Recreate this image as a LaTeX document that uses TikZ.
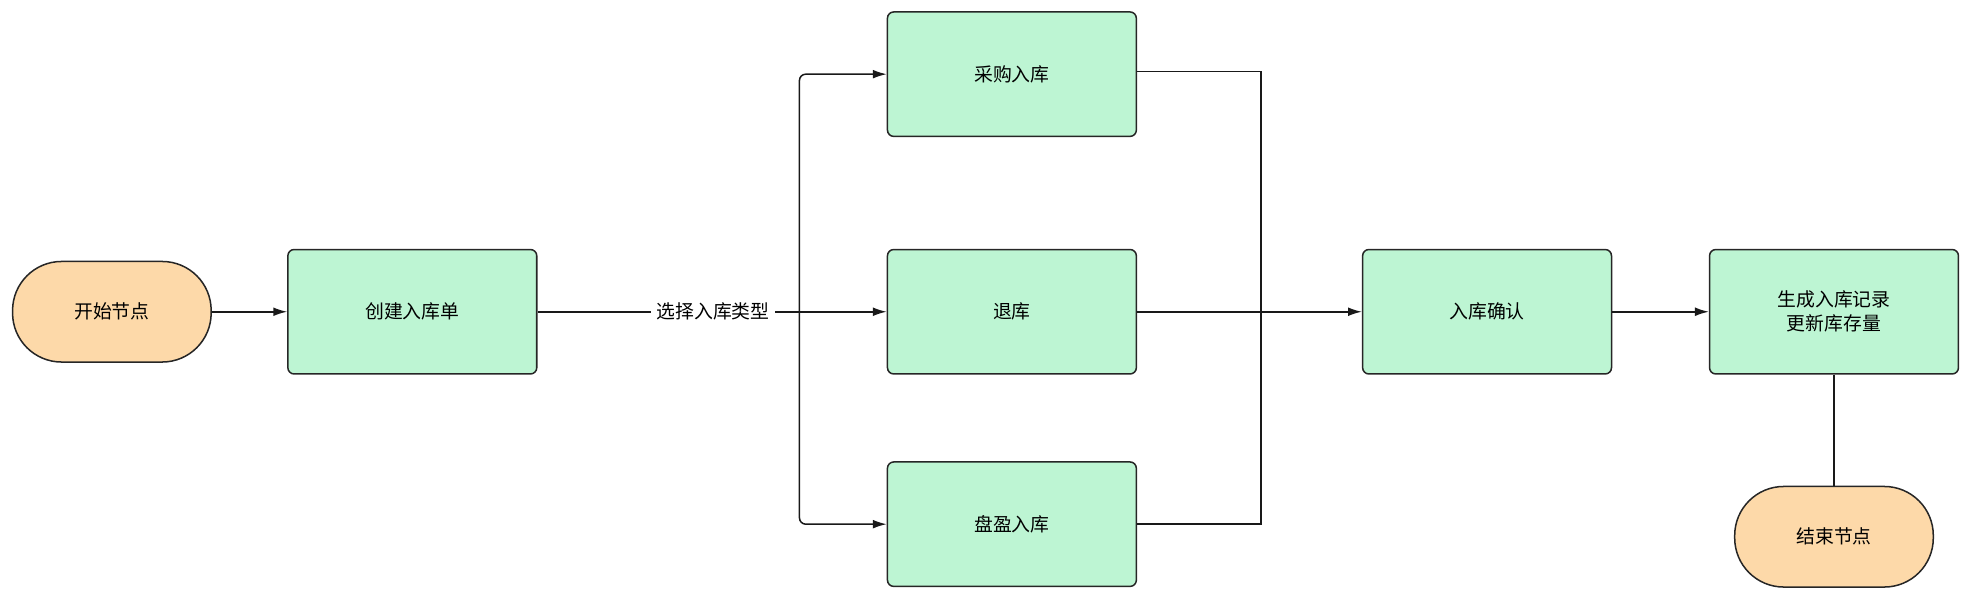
\documentclass[tikz,border=0pt]{standalone}
\usepackage{fontspec}
\newfontfamily\cjk{Noto Sans CJK SC}
\usetikzlibrary{arrows.meta}
\definecolor{gfill}{HTML}{BDF5D3}
\definecolor{ofill}{HTML}{FDD9A9}
\tikzset{
  box/.style={draw=black!85,line width=1.2pt,fill=gfill,rounded corners=5pt,minimum width=198pt,minimum height=99pt,font=\cjk\fontsize{15}{19}\selectfont,align=center},
  term/.style={draw=black!85,line width=1.2pt,fill=ofill,rounded corners=39pt,minimum width=158pt,minimum height=80pt,font=\cjk\fontsize{15}{19}\selectfont},
  conn/.style={line width=1.2pt,draw=black!90},
  arr/.style={conn,-{Latex[length=11pt,width=7pt]}}
}
\begin{document}
\begin{tikzpicture}[x=1pt,y=-1pt]
\useasboundingbox (0,0) rectangle (1568,477);
\node[term] (start) at (89,248) {开始节点};
\node[box] (create) at (328,248) {创建入库单};
\node[box] (buy) at (805,59) {采购入库};
\node[box] (ret) at (805,248) {退库};
\node[box] (surplus) at (805,417) {盘盈入库};
\node[box] (confirm) at (1183,248) {入库确认};
\node[box] (gen) at (1459,248) {生成入库记录\\更新库存量};
\node[term] (end) at (1459,427) {结束节点};
\coordinate (split) at (636,248);
\coordinate (jt) at (1003,57);
\coordinate (jb) at (1003,417);
\draw[arr] (start) -- (create);
\draw[conn] (create) -- node[pos=0.67,fill=white,inner sep=4pt,font=\cjk\fontsize{15}{19}\selectfont]{选择入库类型} (split);
\draw[arr] (split) -- (ret);
\draw[arr,rounded corners=5pt] (split) |- (buy.west);
\draw[arr,rounded corners=5pt] (split) |- (surplus.west);
\draw[conn] (buy.east |- jt) -- (jt) -- (jb) -- (surplus.east);
\draw[arr] (ret) -- (confirm);
\draw[arr] (confirm) -- (gen);
\draw[conn] (gen) -- (end);
\end{tikzpicture}
\end{document}
